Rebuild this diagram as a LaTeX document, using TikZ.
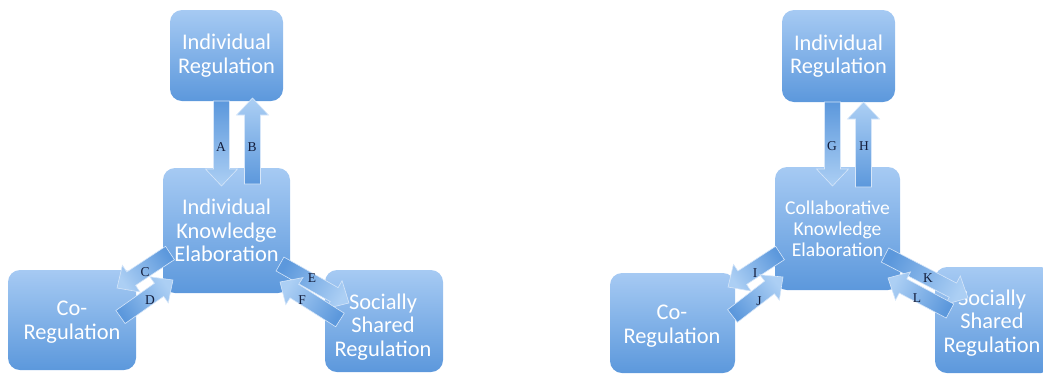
\documentclass[tikz,border=0pt]{standalone}
\usepackage{fontspec}
\setmainfont{Liberation Serif}
\newfontfamily\boxfont{Carlito}
\usetikzlibrary{calc}
\definecolor{boxtop}{RGB}{166,202,243}
\definecolor{boxbot}{RGB}{92,152,220}
\definecolor{arrhead}{RGB}{172,207,244}
\definecolor{arrtail}{RGB}{92,152,220}
\definecolor{arredge}{RGB}{214,230,249}
\definecolor{lbl}{RGB}{20,30,60}
\tikzset{
  box/.style={rounded corners=12pt, top color=boxtop, bottom color=boxbot, draw=none,
    text=white, font=\boxfont\fontsize{22.4}{23.5}\selectfont, align=center, inner sep=0pt},
  boxtext/.style={text=white, font=\boxfont\fontsize{22.4}{23.5}\selectfont, align=center, inner sep=0pt},
  blockarrow/.style={draw=arredge, line width=0.6pt, top color=arrhead, bottom color=arrtail},
  lab/.style={font=\fontsize{13.5}{15}\selectfont, text=lbl, inner sep=0pt},
}
\newcommand\barrow[2]{%
  \path let \p1=(#1), \p2=(#2), \n1={atan2(\y2-\y1,\x2-\x1)}, \n2={veclen(\x2-\x1,\y2-\y1)} in
    \pgfextra{\pgfmathsetmacro\tmpang{\n1}\pgfmathsetmacro\tmplen{\n2}\pgfmathsetmacro\tmpsh{\n1-90}%
      \xdef\barang{\tmpang}\xdef\barlen{\tmplen}\xdef\barsh{\tmpsh}};
  \begin{scope}[shift={(#1)}, rotate=\barang]
    \draw[blockarrow, shading angle=\barsh] (0pt,-8pt) -- ({\barlen pt-17pt},-8pt) -- ({\barlen pt-17pt},-16pt)
      -- (\barlen pt,0pt) -- ({\barlen pt-17pt},16pt) -- ({\barlen pt-17pt},8pt) -- (0pt,8pt) -- cycle;
  \end{scope}}
\begin{document}
\begin{tikzpicture}[x=1pt,y=-1pt]
\useasboundingbox (0,0) rectangle (1043,376);
% left diagram boxes
\node[box, minimum width=113pt, minimum height=91pt] (ir1) at (226.5,55.5) {Individual\\Regulation};
\node[box, minimum width=127pt, minimum height=125pt] (ke1) at (226.5,230.5) {Individual\\Knowledge\\Elaboration};
\node[box, minimum width=128pt, minimum height=100pt] (co1) at (72,320) {};
\node[box, minimum width=118pt, minimum height=102pt] (ss1) at (384,321) {};
\node[boxtext] (co1t) at (72,322) {Co-\\Regulation};
\node[boxtext] (ss1t) at (383,327) {Socially\\Shared\\Regulation};
% right diagram boxes
\node[box, minimum width=113pt, minimum height=92pt] (ir2) at (838.5,56) {Individual\\Regulation};
\node[box, minimum width=125pt, minimum height=123pt, font=\boxfont\fontsize{19.6}{20.8}\selectfont] (ke2) at (837.5,228.5) {Collaborative\\Knowledge\\Elaboration};
\node[box, minimum width=125pt, minimum height=100pt] (co2) at (672.5,323) {};
\node[box, minimum width=118pt, minimum height=106pt] (ss2) at (994,320) {};
\node[boxtext] (co2t) at (672,326) {Co-\\Regulation};
\node[boxtext] (ss2t) at (992,323) {Socially\\Shared\\Regulation};
% arrow end points
\coordinate (As) at (221.5,101); \coordinate (Ae) at (221.5,186);
\coordinate (Bs) at (252.5,184); \coordinate (Be) at (252.5,98);
\coordinate (Cs) at (170,253);   \coordinate (Ce) at (117,288);
\coordinate (Ds) at (120.5,317); \coordinate (De) at (173,280);
\coordinate (Es) at (280,264);   \coordinate (Ee) at (349,303);
\coordinate (Fs) at (340,320);   \coordinate (Fe) at (280,282);
\coordinate (Gs) at (832.5,102); \coordinate (Ge) at (832.5,186);
\coordinate (Hs) at (863.5,187); \coordinate (He) at (863.5,102);
\coordinate (Is) at (780,253);   \coordinate (Ie) at (728,287);
\coordinate (Js) at (732.5,316); \coordinate (Je) at (783,277);
\coordinate (Ks) at (885,255);   \coordinate (Ke) at (968,298);
\coordinate (Ls) at (950,311);   \coordinate (Le) at (888,278);
\barrow{As}{Ae}\barrow{Bs}{Be}\barrow{Cs}{Ce}\barrow{Ds}{De}\barrow{Es}{Ee}\barrow{Fs}{Fe}
\barrow{Gs}{Ge}\barrow{Hs}{He}\barrow{Is}{Ie}\barrow{Js}{Je}\barrow{Ks}{Ke}\barrow{Ls}{Le}
% labels
\node[lab] (la) at (221,147) {A};
\node[lab] (lb) at (252,147) {B};
\node[lab] (lc) at (145,272) {C};
\node[lab] (ld) at (150,300) {D};
\node[lab] (le) at (312,278) {E};
\node[lab] (lf) at (302,300) {F};
\node[lab] (lg) at (832,146) {G};
\node[lab] (lh) at (864,146) {H};
\node[lab] (li) at (755,273) {I};
\node[lab] (lj) at (759,301) {J};
\node[lab] (lk) at (928,278) {K};
\node[lab] (ll) at (917,298) {L};
\end{tikzpicture}
\end{document}
